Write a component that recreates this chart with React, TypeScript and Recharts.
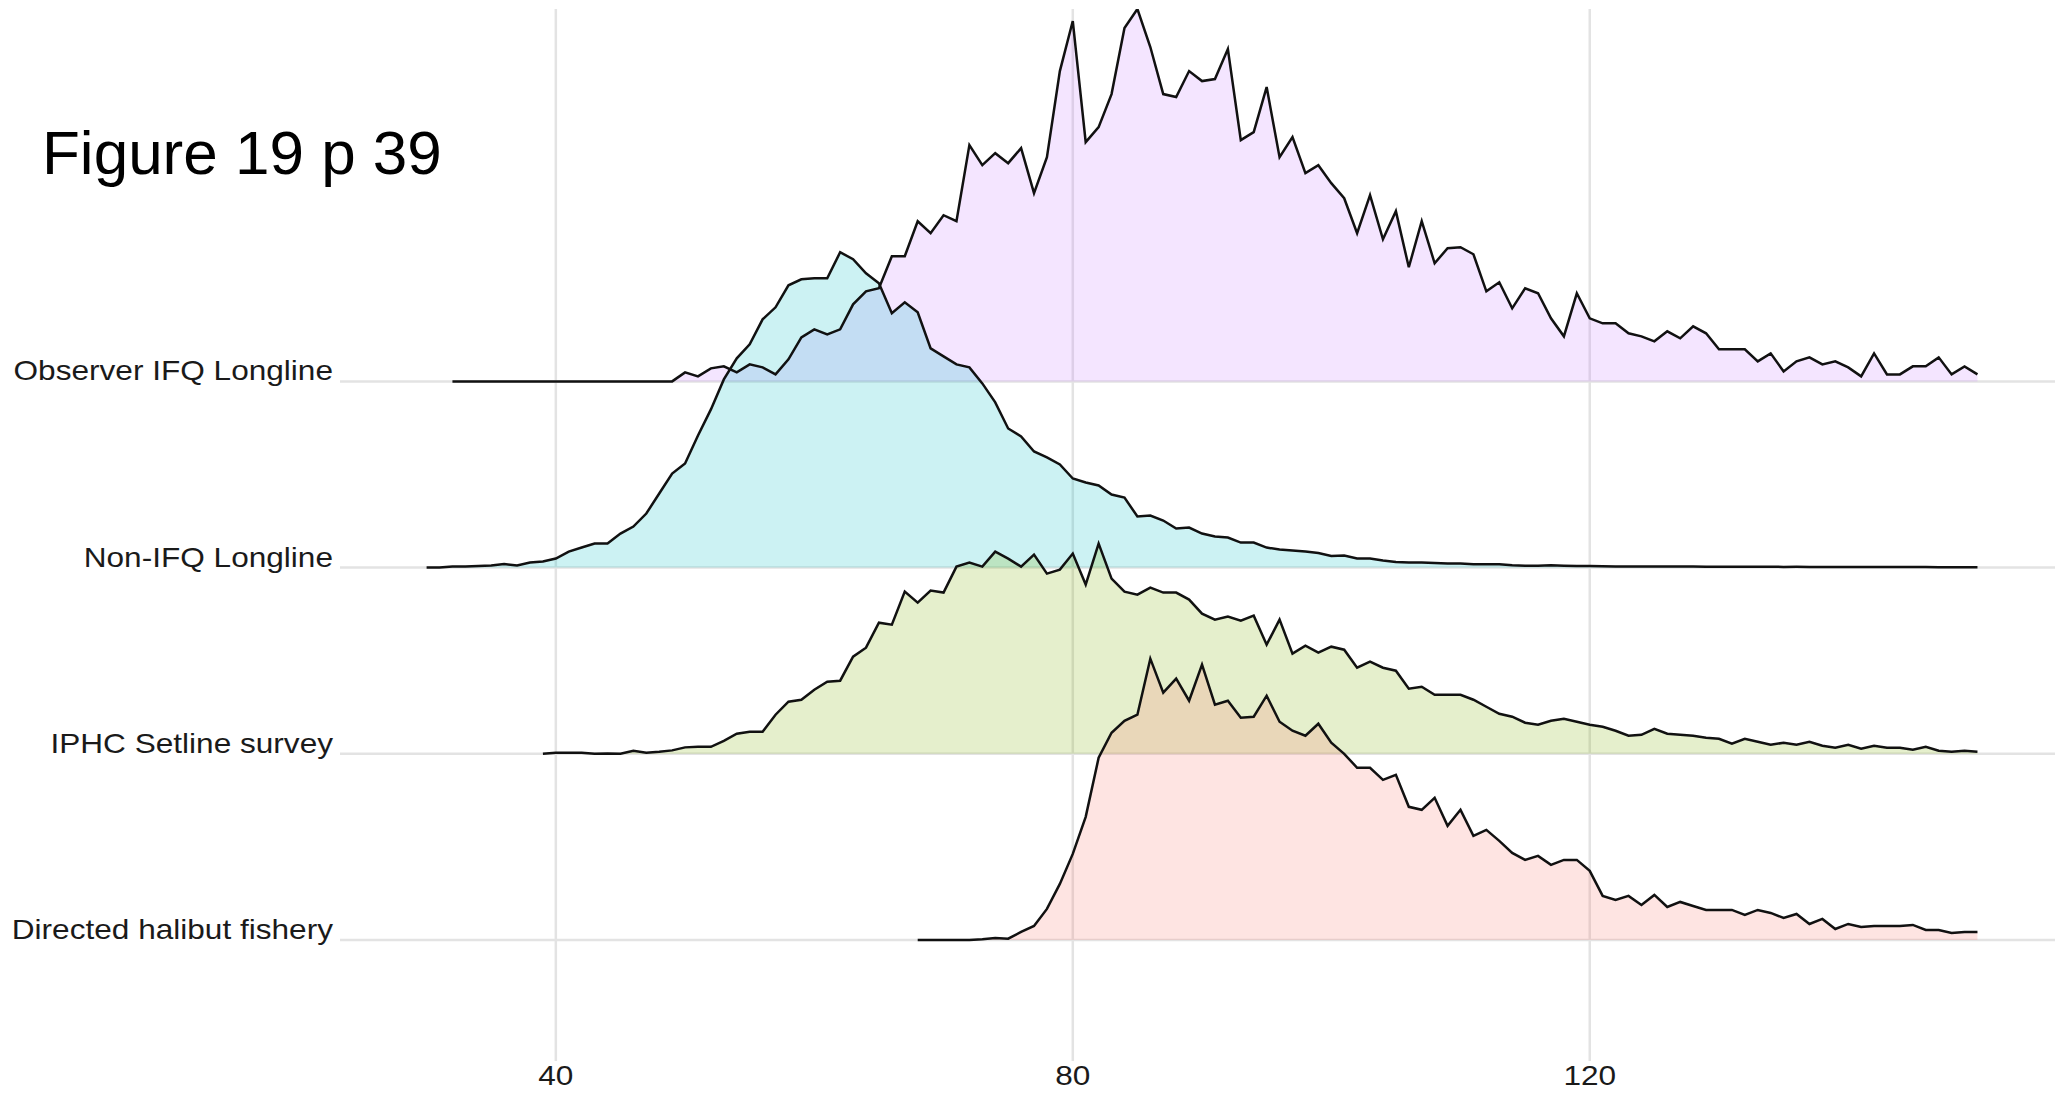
import { ComposedChart, Area, Line, XAxis, YAxis, CartesianGrid } from 'recharts';

// Length compositions (cm) by source, heights
const GEAR_NAMES = ['Directed halibut fishery', 'IPHC Setline survey', 'Non-IFQ Longline', 'Observer IFQ Longline'];
const X_TICKS = [40, 80, 120];
const LENGTH_MIN = 30;
const LENGTH_MAX = 150;

const OBSERVER_START = 32;
const OBSERVER_IFQ = [
  0, 0, 0, 0, 0, 0, 0, 0, 0, 0, 0, 0, 0, 0, 0, 0, 0, 0,
  9, 5, 13, 15, 9, 17, 14, 7, 22, 44, 52, 47, 52, 77, 90, 93, 125, 125, 160, 148, 166, 160,
  236, 216, 228, 218, 233, 188, 224, 310, 360, 239, 254, 287, 353, 372, 334, 287, 284, 310, 300, 302,
  332, 241, 249, 294, 224, 244, 208, 216, 198, 183, 148, 186, 142, 170, 114, 160, 118, 133, 134, 127,
  90, 99, 73, 93, 88, 63, 45, 88, 63, 58, 58, 48, 45, 40, 50, 43, 55, 48, 32, 32,
  32, 20, 28, 10, 20, 24, 17, 20, 14, 5, 28, 7, 7, 15, 15, 24, 7, 15, 7,
];

const NON_IFQ_START = 30;
const NON_IFQ = [
  0, 0, 1, 1, 1.5, 2, 3.5, 2, 5, 6, 9, 16, 20, 24, 24, 34, 41, 54, 74, 94,
  104, 132, 158, 188, 209, 223, 248, 260, 282, 288, 289, 289, 315, 308, 294, 284, 254, 265, 255, 219,
  211, 203, 200, 184, 165, 139, 131, 116, 110, 103, 89, 85, 82, 73, 70, 51, 52, 47, 39, 40,
  34, 31, 30, 25, 25, 20, 18, 17, 16, 14.5, 11.5, 12, 9, 9, 7, 5.5, 5, 5, 4.6, 4.2,
  4.2, 3.3, 3.4, 3.4, 2.3, 1.9, 1.9, 2.3, 1.9, 1.5, 1.5, 1.3, 1.2, 1.2, 1.1, 1.1, 1, 1, 1, 0.9,
  0.9, 0.9, 0.8, 0.8, 0.8, 0.7, 0.8, 0.7, 0.7, 0.6, 0.6, 0.6, 0.6, 0.5, 0.5, 0.5, 0.5, 0.4, 0.4, 0.4, 0.4,
];

const IPHC_START = 39;
const IPHC_SETLINE = [
  0, 1, 1, 1, 0, 0.4, 0, 3, 1, 2, 3.4, 6.4, 7, 7, 13, 20, 22, 22, 39, 52,
  54, 64, 72, 73, 97, 106, 131, 129, 162, 151, 163, 161, 187, 191, 187, 202, 195, 187, 199, 180,
  184, 200, 169, 210, 175, 162, 159, 166, 161, 161, 154, 140, 134, 137, 133, 138, 109, 134, 100, 108,
  101, 107, 104, 86, 92, 86, 83, 65, 67, 59, 59, 59, 54, 47, 40, 37, 31, 29, 33, 35,
  32, 29, 27, 23, 18, 19, 25, 20, 19, 18, 16, 15, 10, 15, 12, 9, 11, 9, 12, 8,
  6, 9, 5, 8, 6, 6, 4, 7, 3, 2, 3, 2,
];

const DIRECTED_START = 68;
const DIRECTED_HALIBUT = [
  0, 0, 0, 0, 0, 0.7, 2, 1.3, 8, 14, 31, 56, 86, 123, 182, 207, 219, 225, 281, 247,
  261, 239, 275, 235, 239, 222, 223, 244, 218, 209, 204, 216, 197, 186, 172, 172, 160, 165, 133, 130,
  142, 114, 130, 104, 110, 99, 87, 80, 84, 75, 80, 80, 69, 44, 40, 44, 35, 45, 33, 38,
  34, 30, 30, 30, 25, 30, 27, 22, 26, 16, 21, 11, 16, 13, 14, 14, 14, 15, 10, 10,
  7, 8, 8,
];

// height units that equal one ridge spacing
const RIDGE_UNIT = 186;

const RIDGES = [
  { key: 'obs', name: GEAR_NAMES[3], offset: 3, color: '#C77CFF' },
  { key: 'non', name: GEAR_NAMES[2], offset: 2, color: '#00BFC4' },
  { key: 'iphc', name: GEAR_NAMES[1], offset: 1, color: '#7CAE00' },
  { key: 'dir', name: GEAR_NAMES[0], offset: 0, color: '#F8766D' },
];

const rows: Record<string, number | undefined>[] = [];
for (let len = LENGTH_MIN; len <= LENGTH_MAX; len++) {
  rows.push({
    len,
    obs: OBSERVER_IFQ[len - OBSERVER_START],
    non: NON_IFQ[len - NON_IFQ_START],
    iphc: IPHC_SETLINE[len - IPHC_START],
    dir: DIRECTED_HALIBUT[len - DIRECTED_START],
  });
}

const FONT = '"Liberation Sans", Arial, sans-serif';

const YTick = (props: any) => {
  const { x, y, payload } = props;
  return (
    <g transform={`translate(${x - 7},${y - 1})`}>
      <text transform="scale(1.17,1)" textAnchor="end" fontSize={27} fontFamily={FONT} fill="#1a1a1a">
        {GEAR_NAMES[payload.value]}
      </text>
    </g>
  );
};

const XTick = (props: any) => {
  const { x, y, payload } = props;
  return (
    <g transform={`translate(${x},${y + 24})`}>
      <text transform="scale(1.17,1)" textAnchor="middle" fontSize={27} fontFamily={FONT} fill="#1a1a1a">
        {payload.value}
      </text>
    </g>
  );
};

export default function App() {
  return (
    <div style={{ position: 'absolute', left: 0, top: 0, width: 2055, height: 1094, background: '#fff' }}>
      <ComposedChart width={2055} height={1094} data={rows} margin={{ top: 9, right: 0, bottom: 0, left: 0 }}>
        <CartesianGrid stroke="#e3e3e3" strokeWidth={2.5} syncWithTicks />
        <XAxis
          dataKey="len"
          type="number"
          domain={[23.3, 156]}
          ticks={X_TICKS}
          allowDataOverflow
          height={33}
          axisLine={false}
          tickLine={false}
          tickSize={0}
          tickMargin={0}
          tick={<XTick />}
        />
        <YAxis
          type="number"
          domain={[-0.65, 5]}
          ticks={[0, 1, 2, 3]}
          allowDataOverflow
          width={340}
          axisLine={false}
          tickLine={false}
          tickSize={0}
          tickMargin={0}
          tick={<YTick />}
        />
        {RIDGES.map((r) => [
          <Area
            key={r.key + '-fill'}
            dataKey={(row: any) => (row[r.key] == null ? null : [r.offset, r.offset + row[r.key] / RIDGE_UNIT])}
            stroke="none"
            fill={r.color}
            fillOpacity={0.2}
            isAnimationActive={false}
            activeDot={false}
          />,
          <Line
            key={r.key + '-line'}
            dataKey={(row: any) => (row[r.key] == null ? null : r.offset + row[r.key] / RIDGE_UNIT)}
            stroke="#111"
            strokeWidth={2.5}
            dot={false}
            activeDot={false}
            isAnimationActive={false}
          />,
        ])}
      </ComposedChart>
      <svg width={600} height={220} style={{ position: 'absolute', left: 0, top: 0, pointerEvents: 'none' }}>
        <text x={42} y={174} fontSize={62} fontFamily={FONT} fill="#000">
          Figure 19 p 39
        </text>
      </svg>
    </div>
  );
}
